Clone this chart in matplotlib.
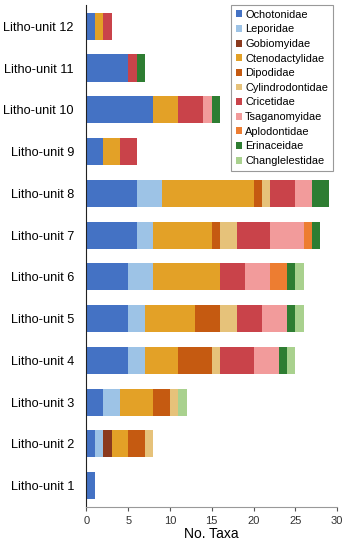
import numpy as np
import matplotlib.pyplot as plt

plt.rcParams['font.family'] = ['Liberation Sans', 'DejaVu Sans']

units = ['Litho-unit 1', 'Litho-unit 2', 'Litho-unit 3', 'Litho-unit 4', 'Litho-unit 5',
         'Litho-unit 6', 'Litho-unit 7', 'Litho-unit 8', 'Litho-unit 9', 'Litho-unit 10',
         'Litho-unit 11', 'Litho-unit 12']

families = ['Ochotonidae', 'Leporidae', 'Gobiomyidae', 'Ctenodactylidae', 'Dipodidae',
            'Cylindrodontidae', 'Cricetidae', 'Tsaganomyidae', 'Aplodontidae',
            'Erinaceidae', 'Changlelestidae']

# taxa counts per family, litho-unit 1 .. 12
ochotonidae      = [1, 1, 2, 5, 5, 5, 6, 6, 2, 8, 5, 1]
leporidae        = [0, 1, 2, 2, 2, 3, 2, 3, 0, 0, 0, 0]
gobiomyidae      = [0, 1, 0, 0, 0, 0, 0, 0, 0, 0, 0, 0]
ctenodactylidae  = [0, 2, 4, 4, 6, 8, 7, 11, 2, 3, 0, 1]
dipodidae        = [0, 2, 2, 4, 3, 0, 1, 1, 0, 0, 0, 0]
cylindrodontidae = [0, 1, 1, 1, 2, 0, 2, 1, 0, 0, 0, 0]
cricetidae       = [0, 0, 0, 4, 3, 3, 4, 3, 2, 3, 1, 1]
tsaganomyidae    = [0, 0, 0, 3, 3, 3, 4, 2, 0, 1, 0, 0]
aplodontidae     = [0, 0, 0, 0, 0, 2, 1, 0, 0, 0, 0, 0]
erinaceidae      = [0, 0, 0, 1, 1, 1, 1, 2, 0, 1, 1, 0]
changlelestidae  = [0, 0, 1, 1, 1, 1, 0, 0, 0, 0, 0, 0]

series = [ochotonidae, leporidae, gobiomyidae, ctenodactylidae, dipodidae,
          cylindrodontidae, cricetidae, tsaganomyidae, aplodontidae,
          erinaceidae, changlelestidae]

colors = ['#4472C4', '#9DC3E6', '#8B3A1E', '#E3A127', '#C55A11', '#E6C27A',
          '#C9434A', '#F29B9B', '#ED7D31', '#2E7D32', '#A9D18E']

fig = plt.figure(figsize=(3.5, 5.4), dpi=100)
ax = fig.add_axes([0.247, 0.062, 0.716, 0.928])

y = np.arange(len(units))
left = np.zeros(len(units))
for name, vals, c in zip(families, series, colors):
    vals = np.array(vals)
    ax.barh(y, vals, left=left, height=0.65, color=c, label=name)
    left += vals

ax.set_xlim(0, 30)
ax.set_ylim(-0.5, 11.5)
ax.set_xticks([0, 5, 10, 15, 20, 25, 30])
ax.set_yticks(y)
ax.set_yticklabels(units, fontsize=9.2)
ax.tick_params(axis='y', length=0, pad=9)
ax.tick_params(axis='x', labelsize=8, length=3, color='#555555', labelcolor='#333333')
ax.spines['top'].set_visible(False)
ax.spines['right'].set_visible(False)
ax.spines['left'].set_color('#222222')
ax.spines['bottom'].set_color('#999999')
ax.set_xlabel('No. Taxa', fontsize=10, labelpad=1)

leg = ax.legend(loc='upper right', bbox_to_anchor=(1.005, 1.012), fontsize=7.9,
                handlelength=0.6, handleheight=0.6, handletextpad=0.25,
                labelspacing=0.42, borderpad=0.45, fancybox=False, framealpha=1)
leg.get_frame().set_edgecolor('#999999')
leg.get_frame().set_linewidth(0.8)

fig.savefig('out.png', dpi=100)
